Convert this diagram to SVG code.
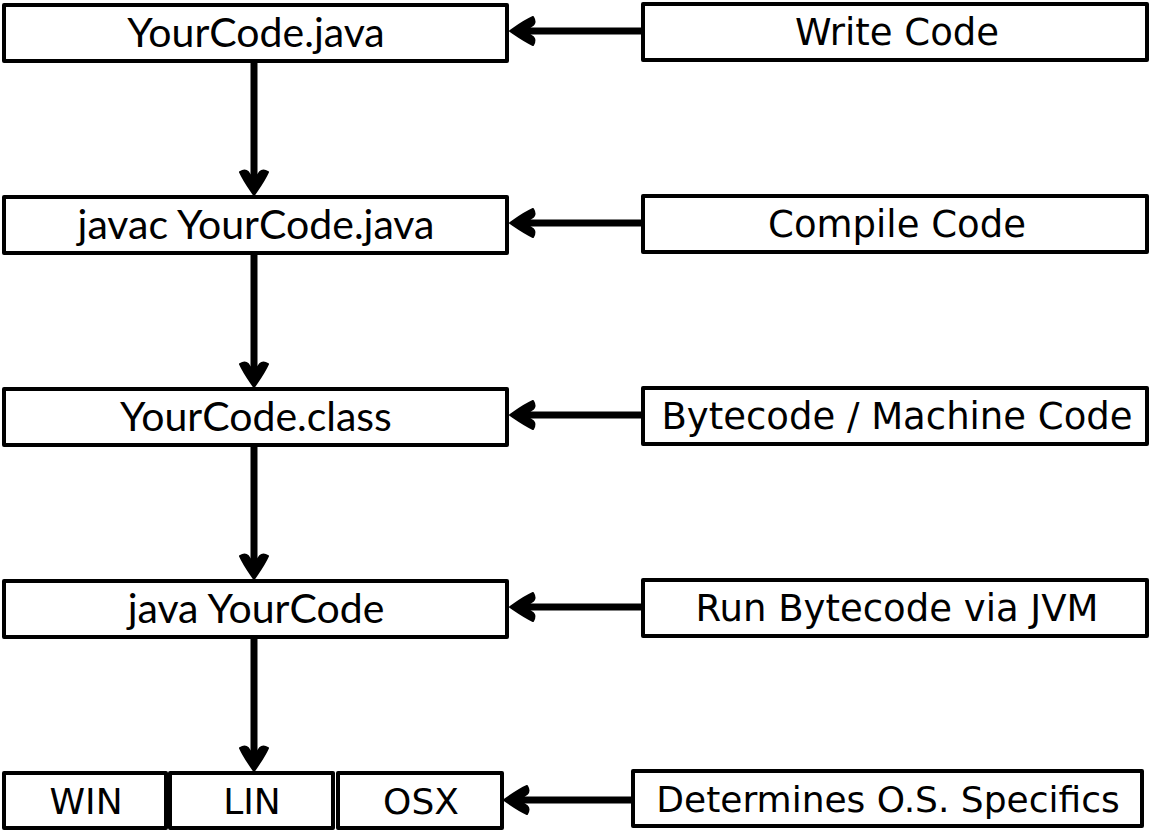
<svg xmlns="http://www.w3.org/2000/svg" width="1152" height="832" viewBox="0 0 1152 832">
<style>
.box{fill:#fff;stroke:#000;stroke-width:4;stroke-linejoin:round}
.lt{font-family:Lato,"Open Sans",sans-serif;font-size:41px;text-anchor:middle;fill:#000}
.rt{font-family:"DejaVu Sans",sans-serif;font-size:37px;text-anchor:middle;fill:#000}
.st{font-family:"DejaVu Sans",sans-serif;font-size:36px;text-anchor:middle;fill:#000}
.edge{stroke:#000;stroke-width:7;fill:none;marker-end:url(#ah)}
</style>
<defs>
<marker id="ah" markerUnits="userSpaceOnUse" viewBox="-14 -16 30 32" refX="0" refY="0" markerWidth="30" markerHeight="32" orient="auto" overflow="visible">
<path d="M14,0 C8,-4 0,-10 -9,-14 Q-12,-9 -9,-6 Q-4,-3 -3,0 Q-4,3 -9,6 Q-12,9 -9,14 C0,10 8,4 14,0 Z" fill="#000" stroke="#000" stroke-width="2" stroke-linejoin="round"/>
</marker>
</defs>
<g id="connectors">
<path class="edge" d="M254,62 L254,181"/>
<path class="edge" d="M254,254 L254,373"/>
<path class="edge" d="M254,446 L254,565"/>
<path class="edge" d="M254,638 L254,757"/>
<path class="edge" d="M642,31 L524,31"/>
<path class="edge" d="M642,223 L524,223"/>
<path class="edge" d="M642,415 L524,415"/>
<path class="edge" d="M642,607 L524,607"/>
<path class="edge" d="M632,800 L518,800"/>
</g>
<g id="n1"><rect class="box" x="4" y="5" width="503" height="56"/><text class="lt" x="256" y="47">YourCode.java</text></g>
<g id="n2"><rect class="box" x="4" y="197" width="503" height="56"/><text class="lt" x="256" y="239">javac YourCode.java</text></g>
<g id="n3"><rect class="box" x="4" y="389" width="503" height="56"/><text class="lt" x="256" y="431">YourCode.class</text></g>
<g id="n4"><rect class="box" x="4" y="581" width="503" height="56"/><text class="lt" x="256" y="623">java YourCode</text></g>
<g id="r1"><rect class="box" x="643" y="4" width="504" height="56"/><text class="rt" x="897" y="45">Write Code</text></g>
<g id="r2"><rect class="box" x="643" y="196" width="504" height="56"/><text class="rt" x="897" y="237">Compile Code</text></g>
<g id="r3"><rect class="box" x="643" y="388" width="504" height="56"/><text class="rt" x="897" y="429">Bytecode / Machine Code</text></g>
<g id="r4"><rect class="box" x="643" y="580" width="504" height="56"/><text class="rt" x="897" y="621">Run Bytecode via JVM</text></g>
<g id="win"><rect class="box" x="4" y="773" width="162" height="55"/><text class="st" x="86" y="814">WIN</text></g>
<g id="lin"><rect class="box" x="170" y="773" width="163" height="55"/><text class="st" x="252" y="814">LIN</text></g>
<g id="osx"><rect class="box" x="338" y="773" width="164" height="55"/><text class="st" x="421" y="814">OSX</text></g>
<g id="r5"><rect class="box" x="633" y="771" width="509" height="55"/><text class="st" x="888" y="812">Determines O.S. Specifics</text></g>
</svg>
